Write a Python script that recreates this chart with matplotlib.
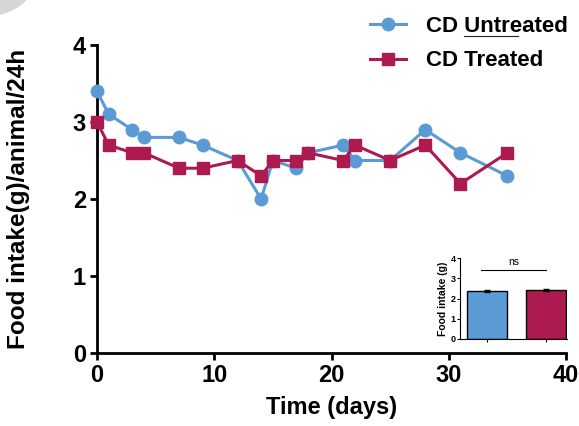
import matplotlib.pyplot as plt
from matplotlib.patches import Wedge

plt.rcParams['font.family'] = ['Liberation Sans', 'DejaVu Sans']
plt.rcParams['font.weight'] = 'bold'

# --- datos ---
dias_untreated = [0, 1, 3, 4, 7, 9, 12, 14, 15, 17, 18, 21, 22, 25, 28, 31, 35]
untreated = [3.4, 3.1, 2.9, 2.8, 2.8, 2.7, 2.5, 2.0, 2.5, 2.4, 2.6, 2.7, 2.5, 2.5, 2.9, 2.6, 2.3]
dias_treated = [0, 1, 3, 4, 7, 9, 12, 14, 15, 17, 18, 21, 22, 25, 28, 31, 35]
treated = [3.0, 2.7, 2.6, 2.6, 2.4, 2.4, 2.5, 2.3, 2.5, 2.5, 2.6, 2.5, 2.7, 2.5, 2.7, 2.2, 2.6]

grupos = ['CD Untreated', 'CD Treated']
media_total = [2.35, 2.40]
error_total = [0.05, 0.05]

azul = '#5b9bd5'
rojo = '#ad1a50'

W, H = 579, 426
fig = plt.figure(figsize=(W / 100, H / 100), dpi=100)

# capa de fondo en pixeles (arco gris de la captura)
bg = fig.add_axes([0, 0, 1, 1], zorder=-1)
bg.set_xlim(0, W)
bg.set_ylim(H, 0)
bg.axis('off')
bg.add_patch(Wedge((-10, -35), 50, 0, 360, width=16, color='#d6d6d6'))

ax = fig.add_axes([97 / W, 1 - 353 / H, 469 / W, 308 / H])

ax.plot(dias_untreated, untreated, '-o', color=azul, lw=2.2, ms=9,
        label=grupos[0], clip_on=False, zorder=3)
ax.plot(dias_treated, treated, '-s', color=rojo, lw=2.2, ms=9,
        label=grupos[1], clip_on=False, zorder=4)

ax.set_xlim(0, 40)
ax.set_ylim(0, 4)
ax.set_xticks([0, 10, 20, 30, 40])
ax.set_yticks([0, 1, 2, 3, 4])
for s in ['top', 'right']:
    ax.spines[s].set_visible(False)
for s in ['left', 'bottom']:
    ax.spines[s].set_linewidth(2)
ax.tick_params(width=2, length=5, labelsize=17, pad=3)
ax.set_xlabel('Time (days)', fontsize=17, fontweight='bold')
ax.set_ylabel('Food intake(g)/animal/24h', fontsize=17.5, fontweight='bold')
ax.xaxis.set_label_coords(0.5, -0.14)
ax.yaxis.set_label_coords(-0.143, 0.5)

leg = ax.legend(loc='upper right', bbox_to_anchor=(1.0, 1 - 5 / H), bbox_transform=fig.transFigure,
                frameon=False, handlelength=1.6, handletextpad=0.9, labelspacing=0.6,
                prop={'weight': 'bold', 'size': 16}, borderaxespad=0.1)

# subrayado bajo "Untreated"
fig.canvas.draw()
r = fig.canvas.get_renderer()
t0 = leg.get_texts()[0]
bb = t0.get_window_extent(r)
tmp = fig.text(0, 0, 'CD ', fontsize=16, fontweight='bold')
w_cd = tmp.get_window_extent(r).width
tmp.remove()
x0 = bb.x0 + w_cd
x1 = x0 + (bb.x1 - x0) * 0.52
yl = bb.y0 + 1
bg.plot([x0, x1], [H - yl, H - yl], color='#222222', lw=0.8)

# --- inset ---
ins = fig.add_axes([460 / W, 1 - 339 / H, 107 / W, 81 / H])
ins.bar([0, 1], media_total, yerr=error_total, color=[azul, rojo], width=0.68,
        edgecolor='black', linewidth=1, capsize=2.5, error_kw={'elinewidth': 1})
ins.set_xlim(-0.45, 1.35)
ins.set_ylim(0, 4)
ins.set_yticks([0, 1, 2, 3, 4])
ins.set_xticks([0, 1])
ins.set_xticklabels([])
for s in ['top', 'right']:
    ins.spines[s].set_visible(False)
ins.tick_params(labelsize=6.5, length=2, width=0.8, pad=1)
ins.set_ylabel('Food intake (g)', fontsize=7.5, fontweight='bold', labelpad=2)
ins.plot([-0.1, 1.0], [3.4, 3.4], color='black', lw=0.8)
ins.text(0.45, 3.55, 'ns', ha='center', va='bottom', fontsize=7.5, fontweight='normal')

fig.savefig('out.png', dpi=100)
